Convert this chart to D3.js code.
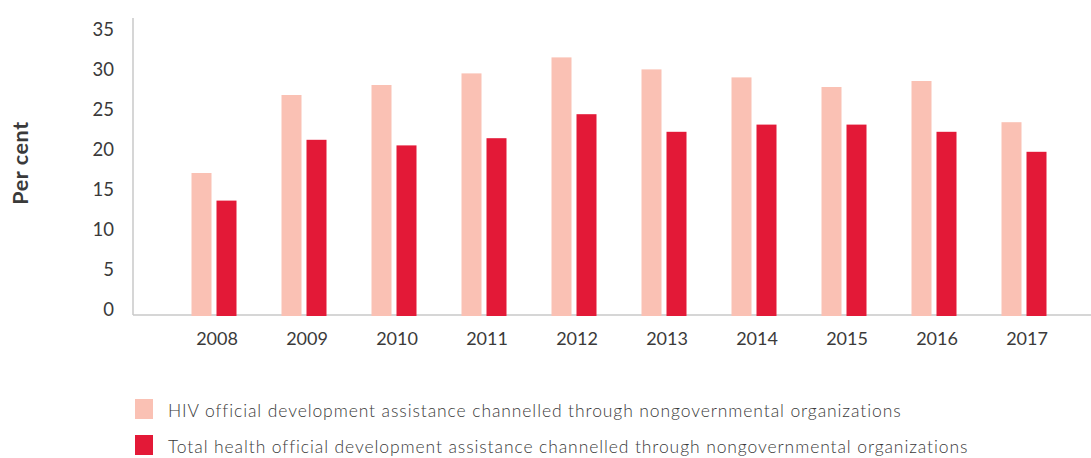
<!DOCTYPE html>
<html>
<head>
<meta charset="utf-8">
<script src="https://cdn.jsdelivr.net/npm/d3@7"></script>
<style>
  html, body { margin: 0; padding: 0; background: #fff; }
  svg { display: block; font-family: Lato, "Open Sans", sans-serif; }
</style>
</head>
<body>
<svg id="chart" width="1091" height="458"></svg>
<script>
const years = ["2008","2009","2010","2011","2012","2013","2014","2015","2016","2017"];
const hivNgo = [17.75, 27.5, 28.75, 30.2, 32.2, 30.7, 29.7, 28.5, 29.25, 24.1];
const healthNgo = [14.3, 21.9, 21.2, 22.1, 25.1, 22.9, 23.8, 23.8, 22.9, 20.4];
const yTicks = [0, 5, 10, 15, 20, 25, 30, 35];
const seriesNames = [
  "HIV official development assistance channelled through nongovernmental organizations",
  "Total health official development assistance channelled through nongovernmental organizations"
];
const seriesColors = ["#fac1b4", "#e31937"];
const yTitle = "Per cent";

const svg = d3.select("#chart");
const axisColor = "#c9c9c9";
const textColor = "#3a3a3a";

const x0 = d3.scaleBand().domain(years).range([169, 1069]).paddingInner(0.5).paddingOuter(0.25);
const x1 = d3.scaleBand().domain([0, 1]).range([0, x0.bandwidth()]).paddingInner(0.2);
const y = d3.scaleLinear().domain([0, 37.125]).range([315, 18]);

// axes lines
svg.append("line").attr("x1", 133).attr("x2", 133).attr("y1", y(37.125)).attr("y2", y(0))
  .attr("stroke", axisColor).attr("stroke-width", 1.5);
svg.append("line").attr("x1", 133).attr("x2", 1091).attr("y1", y(0)).attr("y2", y(0))
  .attr("stroke", axisColor).attr("stroke-width", 1.5);

// y tick labels (baseline on tick)
const yAxis = d3.axisLeft(y).tickValues(yTicks).tickSize(0).tickPadding(19);
const yg = svg.append("g").attr("transform", "translate(133,0)").call(yAxis);
yg.select(".domain").remove();
yg.selectAll("text").attr("dy", "0").attr("font-size", 18.5).attr("fill", textColor)
  .attr("font-family", "Lato, sans-serif");

// x tick labels
const xAxis = d3.axisBottom(x0).tickSize(0).tickPadding(0);
const xg = svg.append("g").attr("transform", `translate(3,${y(0)})`).call(xAxis);
xg.select(".domain").remove();
xg.selectAll("text").attr("dy", "0").attr("y", 30).attr("font-size", 18).attr("fill", textColor)
  .attr("font-family", "Lato, sans-serif");

// bars
const data = years.map((yr, i) => ({ year: yr, values: [hivNgo[i], healthNgo[i]] }));
const groups = svg.append("g").selectAll("g").data(data).join("g")
  .attr("transform", d => `translate(${x0(d.year)},0)`);
groups.selectAll("rect").data(d => d.values.map((v, k) => ({ k, v }))).join("rect")
  .attr("x", d => x1(d.k))
  .attr("width", x1.bandwidth())
  .attr("y", d => y(d.v))
  .attr("height", d => y(0) - y(d.v) + 1)
  .attr("fill", d => seriesColors[d.k]);

// y title
svg.append("text")
  .attr("transform", "translate(28,163) rotate(-90)")
  .attr("text-anchor", "middle")
  .attr("font-size", 21.5).attr("font-weight", "bold").attr("fill", textColor)
  .attr("letter-spacing", 0.6)
  .attr("font-family", "Lato, sans-serif")
  .text(yTitle);

// legend
const legend = svg.append("g").selectAll("g").data(seriesNames).join("g")
  .attr("transform", (d, i) => `translate(135,${399 + i * 36})`);
legend.append("rect").attr("width", 18).attr("height", 20).attr("fill", (d, i) => seriesColors[i]);
legend.append("text").attr("x", 33).attr("y", 18)
  .attr("font-size", 17.5).attr("font-weight", 300).attr("fill", textColor)
  .attr("letter-spacing", 0.9)
  .attr("font-family", "Lato, sans-serif")
  .text(d => d);
</script>
</body>
</html>
